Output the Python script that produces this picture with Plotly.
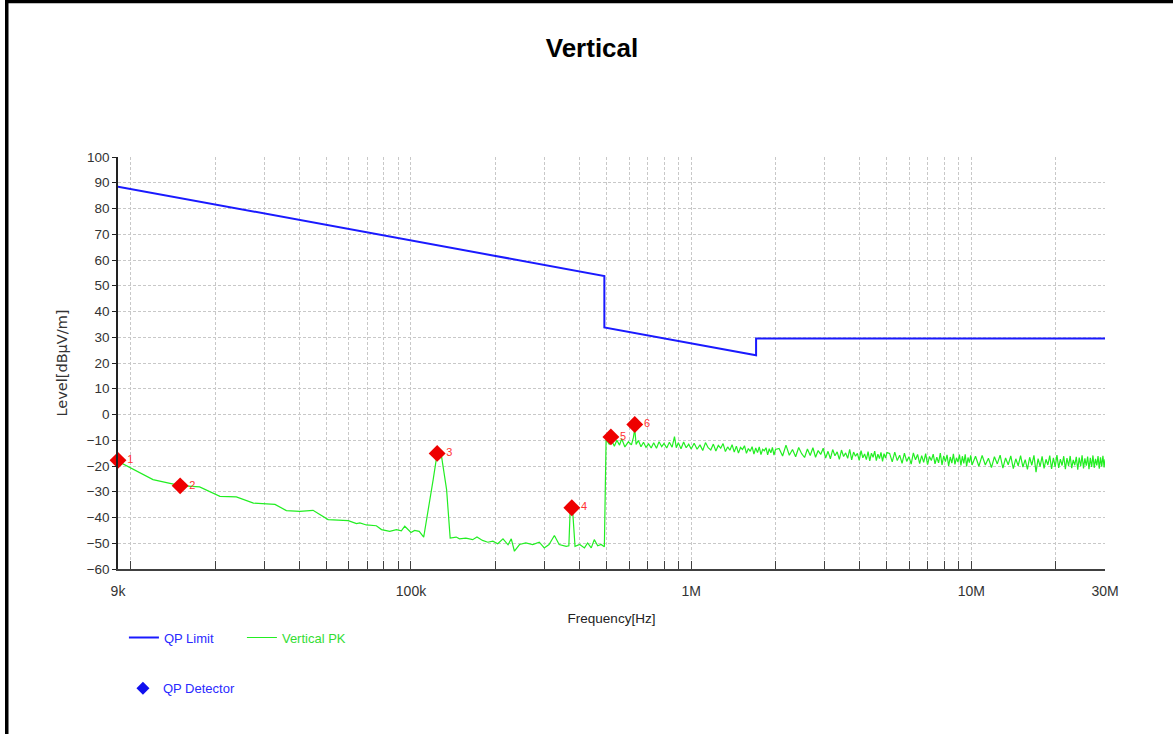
import plotly.graph_objects as go

# ---------------- data ----------------
# QP limit (frequency in kHz, level in dBuV/m)
LIMIT_F_KHZ = [9, 490, 490, 1705, 1705, 30000]
LIMIT_LVL = [88.5, 53.8, 33.8, 23.0, 29.5, 29.5]

# Vertical PK sweep, low band (kHz)
PK_LOW_F = [9.0, 12.0, 15.0, 17.6, 20.8, 23.8, 27.4, 32.7, 35.9, 40.1, 44.7, 50.6,
            59.7, 63.9, 65.7, 69.3, 75.2, 78.5, 84.0, 88.7, 92.4, 95.0, 100, 103,
            107, 111, 120, 124, 128.5, 134, 138, 145, 149, 157, 166, 172, 180, 188,
            196, 204, 213, 222, 228, 234, 244, 257, 272, 287, 299, 311, 325, 338,
            358, 366, 370, 377, 385, 400, 416, 427, 440, 451, 464, 477, 490]
PK_LOW_L = [-18.2, -25.3, -27.6, -28.1, -31.8, -32.0, -34.4, -34.9, -37.3, -37.6, -37.2, -40.8,
            -41.2, -42.4, -42.1, -42.9, -43.2, -44.7, -45.4, -44.7, -45.2, -43.4, -45.8, -45.0,
            -45.4, -47.6, -25.3, -15.2, -16.2, -29.2, -48.0, -47.6, -48.3, -48.0, -48.6, -47.6,
            -48.9, -49.6, -49.2, -50.2, -48.3, -50.6, -48.3, -53.1, -50.5, -49.9, -50.5, -49.6,
            -51.8, -50.5, -47.0, -50.5, -51.2, -51.0, -37.0, -36.3, -51.2, -50.5, -51.8, -49.9,
            -51.8, -48.6, -51.0, -50.5, -51.4]

# Vertical PK sweep, 0.5-1 MHz (kHz)
PK_A_F = [497, 510, 521, 532, 543, 555, 565, 580, 597, 612, 622, 629, 636, 648, 662, 676,
          690, 705, 720, 735, 752, 768, 785, 800, 818, 836, 855, 872, 885, 900, 920, 940,
          960, 980, 1000]
PK_A_L = [-9.7, -11.5, -10.2, -12.3, -10.0, -11.9, -9.4, -12.6, -10.6, -11.8,
          -9.0, -5.5, -11.6, -10.1, -12.5, -10.8, -12.8, -11.4, -13.0, -11.0,
          -13.1, -10.6, -12.5, -11.2, -13.0, -10.8, -12.7, -8.6, -12.9, -11.0,
          -13.3, -10.7, -12.9, -11.5, -13.4]

# 1-2 MHz (kHz)
PK_B_F = [1025, 1050, 1075, 1100, 1125, 1150, 1175, 1200, 1225, 1250, 1275, 1300, 1325, 1350,
          1375, 1400, 1425, 1450, 1475, 1500, 1525, 1550, 1575, 1600, 1625, 1650, 1675, 1700,
          1725, 1750, 1775, 1800, 1825, 1850, 1875, 1900, 1925, 1950, 1975, 2000]
PK_B_L = [-11.2, -13.5, -11.8, -14.0, -10.9, -12.9, -13.8, -11.5, -14.2, -12.0,
          -13.1, -11.3, -14.4, -12.6, -13.9, -11.7, -14.6, -12.3, -15.0, -12.8,
          -13.6, -12.1, -15.1, -13.2, -14.3, -12.5, -15.4, -13.0, -14.8, -12.6,
          -15.6, -13.5, -14.1, -12.9, -15.7, -13.3, -14.9, -12.8, -15.8, -13.6]

# 2-5 MHz (kHz)
PK_C_F = [2060, 2120, 2180, 2240, 2300, 2360, 2420, 2480, 2540, 2600, 2660, 2720, 2780, 2840,
          2900, 2960, 3020, 3080, 3140, 3200, 3260, 3320, 3380, 3440, 3500, 3560, 3620, 3680,
          3740, 3800, 3860, 3920, 3980, 4040, 4100, 4160, 4220, 4280, 4340, 4400, 4460, 4520,
          4580, 4640, 4700, 4760, 4820, 4880, 4940, 5000]
PK_C_L = [-13.2, -16.1, -11.9, -15.8, -13.6, -16.4, -12.8, -15.2, -16.7, -13.4,
          -15.9, -12.9, -16.6, -14.0, -15.5, -13.1, -16.9, -14.3, -17.2, -13.6,
          -16.0, -14.5, -17.4, -13.8, -16.3, -14.9, -17.0, -13.5, -17.6, -14.6,
          -16.2, -15.1, -17.8, -14.0, -16.8, -15.3, -17.5, -14.4, -18.0, -15.0,
          -16.6, -14.2, -17.9, -15.4, -17.1, -14.7, -18.2, -15.2, -16.9, -14.8]

# 5-10 MHz (kHz)
PK_D_F = [5110, 5220, 5330, 5440, 5550, 5660, 5770, 5880, 5990, 6100, 6210, 6320, 6430, 6540,
          6650, 6760, 6870, 6980, 7090, 7200, 7310, 7420, 7530, 7640, 7750, 7860, 7970, 8080,
          8190, 8300, 8410, 8520, 8630, 8740, 8850, 8960, 9070, 9180, 9290, 9400, 9510, 9620,
          9730, 9840, 9950, 10060]
PK_D_L = [-15.1, -18.4, -14.6, -17.9, -15.8, -19.0, -15.0, -18.2, -16.4, -19.3,
          -14.9, -17.6, -15.5, -19.1, -16.0, -18.6, -15.2, -19.5, -16.3, -17.9,
          -15.4, -19.2, -16.6, -18.8, -15.0, -19.6, -16.1, -18.3, -15.7, -20.0,
          -16.5, -18.9, -15.3, -19.4, -16.8, -18.5, -15.6, -19.8, -16.2, -19.0,
          -15.5, -20.2, -16.7, -18.7, -15.9, -19.6]

# 10-30 MHz (kHz)
PK_E_F = [10350, 10640, 10930, 11220, 11510, 11800, 12090, 12380, 12670, 12960, 13250, 13540,
          13830, 14120, 14410, 14700, 14990, 15280, 15570, 15860, 16150, 16440, 16730, 17020,
          17310, 17600, 17890, 18180, 18470, 18760, 19050, 19340, 19630, 19920, 20210, 20500,
          20790, 21080, 21370, 21660, 21950, 22240, 22530, 22820, 23110, 23400, 23690, 23980,
          24270, 24560, 24850, 25140, 25430, 25720, 26010, 26300, 26590, 26880, 27170, 27460,
          27750, 28040, 28330, 28620, 28910, 29200, 29490, 29780, 30000]
PK_E_L = [-16.2, -20.1, -15.9, -19.6, -17.0, -20.6, -16.4, -19.2, -15.8, -20.8,
          -16.9, -19.5, -16.1, -21.0, -17.2, -19.9, -16.0, -20.4, -17.5, -21.3,
          -16.6, -19.7, -15.9, -22.4, -17.1, -20.2, -16.3, -20.9, -17.4, -19.6,
          -16.0, -21.1, -16.8, -20.3, -15.8, -20.7, -17.3, -19.8, -16.2, -21.2,
          -16.9, -20.0, -16.1, -20.8, -17.6, -19.7, -16.4, -21.4, -16.7, -20.1,
          -15.9, -20.9, -17.0, -19.9, -16.3, -21.2, -16.8, -20.4, -15.9, -20.7,
          -17.2, -19.8, -16.1, -21.0, -16.6, -20.3, -16.0, -20.6, -17.4]

# QP detector markers
MARK_F_KHZ = [9.0, 15.0, 124, 375, 517, 629]
MARK_LVL = [-17.8, -27.7, -15.1, -36.2, -8.7, -3.9]
MARK_LBL = ["1", "2", "3", "4", "5", "6"]

# axis ticks
X_TICKS_HZ = [9e3, 1e5, 1e6, 1e7, 3e7]
X_TICK_TXT = ["9k", "100k", "1M", "10M", "30M"]
Y_TICKS = list(range(-60, 101, 10))

# ---------------- figure ----------------
SANS = "Liberation Sans, Arial, sans-serif"
BLUE = "#1a1aff"
GREEN = "#22ee22"
GRID = "#c8c8c8"

pk_f, pk_l = [], []
for fs, ls in [(PK_LOW_F, PK_LOW_L), (PK_A_F, PK_A_L), (PK_B_F, PK_B_L),
               (PK_C_F, PK_C_L), (PK_D_F, PK_D_L), (PK_E_F, PK_E_L)]:
    for f, l in zip(fs, ls):
        pk_f.append(f * 1000)
        pk_l.append(l)

fig = go.Figure()
fig.add_trace(go.Scatter(
    x=[f * 1000 for f in LIMIT_F_KHZ], y=LIMIT_LVL, mode="lines",
    line=dict(color=BLUE, width=2),
    name='<span style="color:#2a2aff">QP Limit</span>', legend="legend"))
fig.add_trace(go.Scatter(
    x=pk_f, y=pk_l, mode="lines", line=dict(color=GREEN, width=1.2),
    name='<span style="color:#33dd33">Vertical PK</span>', legend="legend"))
fig.add_trace(go.Scatter(
    x=[f * 1000 for f in MARK_F_KHZ], y=MARK_LVL, mode="markers+text",
    marker=dict(symbol="diamond", color="#ee0000", size=13),
    text=MARK_LBL, textposition="middle right",
    textfont=dict(color="#ff3333", size=11, family=SANS),
    cliponaxis=False, showlegend=False))
fig.add_trace(go.Scatter(
    x=[None], y=[None], mode="markers",
    marker=dict(symbol="diamond", color="#1010ee", size=10),
    name='<span style="color:#2a2aff">QP Detector</span>', legend="legend2"))

minor_vals = []
for dec in [1e4, 1e5, 1e6, 1e7]:
    for m in range(1, 10):
        v = m * dec
        if 9e3 < v <= 3e7 and v not in X_TICKS_HZ:
            minor_vals.append(v)

fig.update_xaxes(
    type="log", range=[3.9542425, 7.4771213],
    tickmode="array", tickvals=X_TICKS_HZ, ticktext=X_TICK_TXT,
    tickfont=dict(family=SANS, size=14, color="#333333"),
    ticks="inside", ticklen=8, tickcolor="#404040", tickwidth=1,
    ticklabelstandoff=8,
    showgrid=True, gridcolor=GRID, griddash="3px,2px", gridwidth=1,
    minor=dict(tickvals=minor_vals, ticks="inside", ticklen=8, tickcolor="#404040",
               showgrid=True, gridcolor=GRID, griddash="3px,2px", gridwidth=1),
    showline=True, linecolor="#404040", linewidth=1.5, zeroline=False,
    title=dict(text="Frequency[Hz]", font=dict(family=SANS, size=13.5, color="#222222"),
               standoff=16),
)
fig.update_yaxes(
    range=[-60, 100], tickmode="array", tickvals=Y_TICKS,
    tickfont=dict(family=SANS, size=13.5, color="#333333"),
    ticks="outside", ticklen=4, tickcolor="#222222",
    showgrid=True, gridcolor=GRID, griddash="3px,2px", gridwidth=1,
    showline=True, linecolor="#222222", linewidth=1.5, zeroline=False,
    title=dict(text="Level[dBµV/m]", font=dict(family="DejaVu Sans, Liberation Sans", size=14.5, color="#333333"),
               standoff=16),
)

fig.update_layout(
    width=1173, height=734,
    margin=dict(l=118, r=68, t=157, b=165, autoexpand=False),
    paper_bgcolor="white", plot_bgcolor="white",
    title=dict(text="<b>Vertical</b>", x=592 / 1173, xanchor="center",
               y=1 - 48 / 734, yanchor="middle", yref="container", xref="container",
               font=dict(family=SANS, size=26, color="#000000")),
    legend=dict(orientation="h", x=0.006, y=-0.130, xanchor="left", yanchor="top",
                entrywidth=73, entrywidthmode="pixels", itemwidth=30,
                font=dict(family=SANS, size=13), bgcolor="rgba(0,0,0,0)"),
    legend2=dict(orientation="h", x=0.005, y=-0.253, xanchor="left", yanchor="top",
                 itemwidth=30, font=dict(family=SANS, size=13), bgcolor="rgba(0,0,0,0)"),
    shapes=[
        dict(type="rect", xref="paper", yref="paper",
             x0=(5 - 118) / 987, x1=(8.5 - 118) / 987, y0=-0.5, y1=(569 + 2) / 412,
             fillcolor="black", line=dict(width=0), layer="above"),
        dict(type="rect", xref="paper", yref="paper",
             x0=(5 - 118) / 987, x1=(1180 - 118) / 987, y0=(569 - 3.3) / 412, y1=(569 + 2) / 412,
             fillcolor="black", line=dict(width=0), layer="above"),
    ],
)

fig.write_html("out.html", config={"displayModeBar": False},
               post_script="document.body.style.margin='0px';")
